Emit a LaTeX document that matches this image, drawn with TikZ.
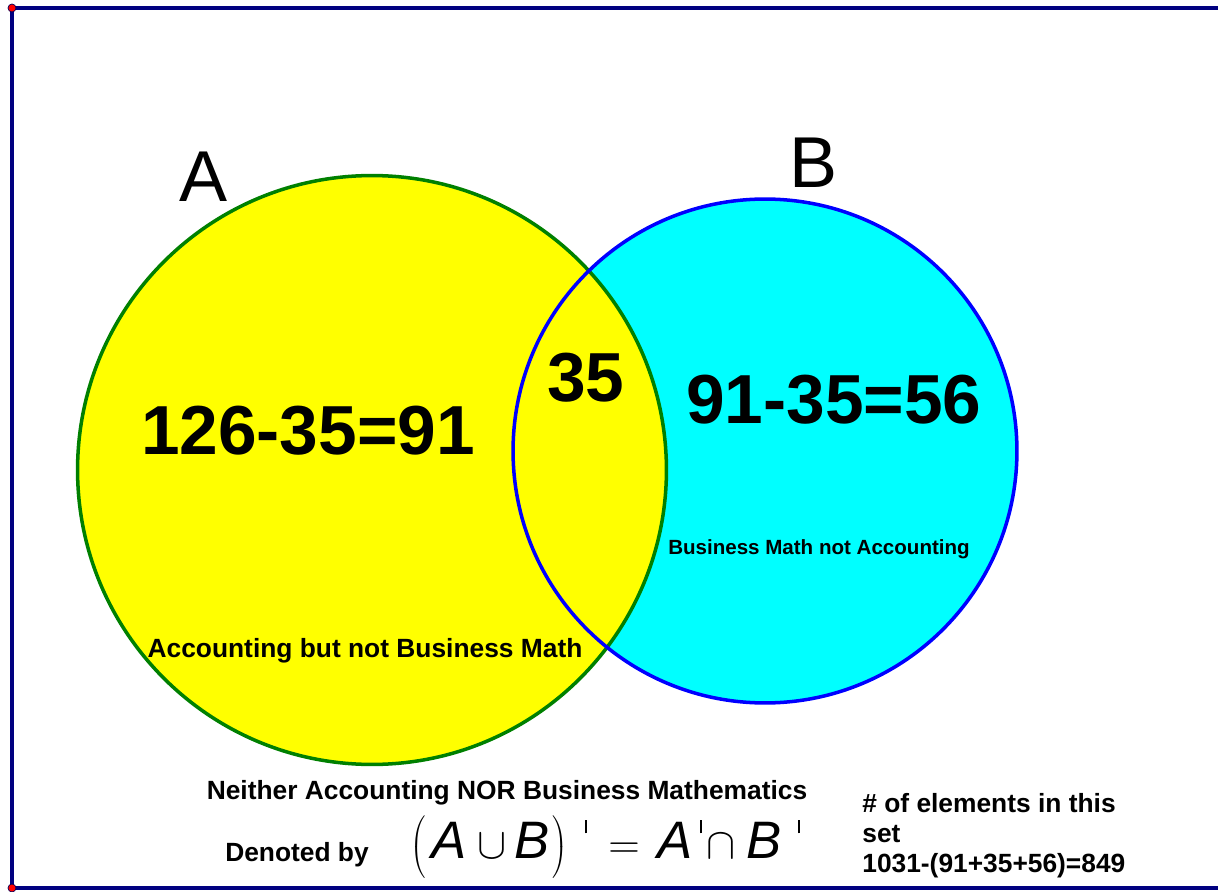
\documentclass[tikz,border=0pt]{standalone}
\usepackage{fontspec}
\setmainfont{Liberation Sans}
\usetikzlibrary{positioning}
\definecolor{vnyellow}{RGB}{255,255,0}
\definecolor{vncyan}{RGB}{0,255,255}
\definecolor{vngreen}{RGB}{0,128,0}
\definecolor{vnblue}{RGB}{0,0,255}
\definecolor{vnnavy}{RGB}{0,0,128}
\definecolor{vnred}{RGB}{255,0,0}
\newcommand{\vnprime}{\rule[14pt]{1.2pt}{7.5pt}}

\begin{document}
\begin{tikzpicture}[
    x=0.02cm, y=-0.02cm,
    frame/.style={line width=2.3pt, vnnavy},
    corner/.style={circle, fill=vnred, draw=vnnavy!70!black, line width=0.4pt,
        inner sep=0pt, minimum size=0.16cm},
    setname/.style={font=\fontsize{41}{49}\selectfont, inner sep=0pt},
    count/.style={font=\fontsize{39.5}{47}\selectfont\bfseries, inner sep=0pt},
    region/.style={font=\fontsize{15}{18}\selectfont\bfseries, inner sep=0pt, anchor=base},
    note/.style={font=\fontsize{15}{17}\selectfont\bfseries, inner sep=0pt}
]
\useasboundingbox (0,0) rectangle (1218,892);

% Frame.
\coordinate (tl) at (12,8);
\coordinate (bl) at (12,888);
\coordinate (tr) at (1220,8);
\coordinate (br) at (1220,888);
\draw[frame] (tr) -- (tl) -- (bl) -- (br);
\node[corner] (dotT) at (tl) {};
\node[corner] (dotB) at (bl) {};

% Sets.
\coordinate (cA) at (372,470);
\coordinate (cB) at (765,451);
\fill[vncyan] (cB) circle[radius=5.04cm];
\fill[vnyellow] (cA) circle[radius=5.89cm];
\draw[vngreen, line width=2pt] (cA) circle[radius=5.89cm];
\draw[vnblue, line width=2pt] (cB) circle[radius=5.04cm];

\node[setname] (nameA) at (204,177) {A};
\node[setname] (nameB) at (814,163) {B};

% Counts.
\node[count] (onlyA) at (308,431) {126-35=91};
\node[count] (both) at (586,378) {35};
\node[count] (onlyB) at (834,400) {91-35=56};

\node[region] (labA) at (365,657) {Accounting but not Business Math};
\node[region, font=\fontsize{11.7}{14}\selectfont\bfseries] (labB) at (819,554)
    {Business Math not Accounting};

% Complement.
\node[note, anchor=base] (neither) at (507,799) {Neither Accounting NOR Business Mathematics};
\node[note, anchor=base] (denoted) at (297,861) {Denoted by};
\node[inner sep=0pt, anchor=base, font=\fontsize{30}{36}\selectfont] (formula) at (605,858)
    {$\left(\rule[-10pt]{0pt}{36pt}\right.$\hspace{2pt}\textit{A}\hspace{6pt}$\cup$\hspace{5pt}\textit{B}$\left.\rule[-10pt]{0pt}{36pt}\right)$\hspace{10pt}\vnprime\hspace{12pt}$=$\hspace{10pt}\textit{A}\hspace{4pt}\vnprime\hspace{3pt}$\cap$\hspace{6pt}\textit{B}\hspace{9pt}\vnprime};
\node[note, anchor=west, align=left] (total) at (862,836)
    {\# of elements in this\\set\\1031-(91+35+56)=849};

\end{tikzpicture}
\end{document}
